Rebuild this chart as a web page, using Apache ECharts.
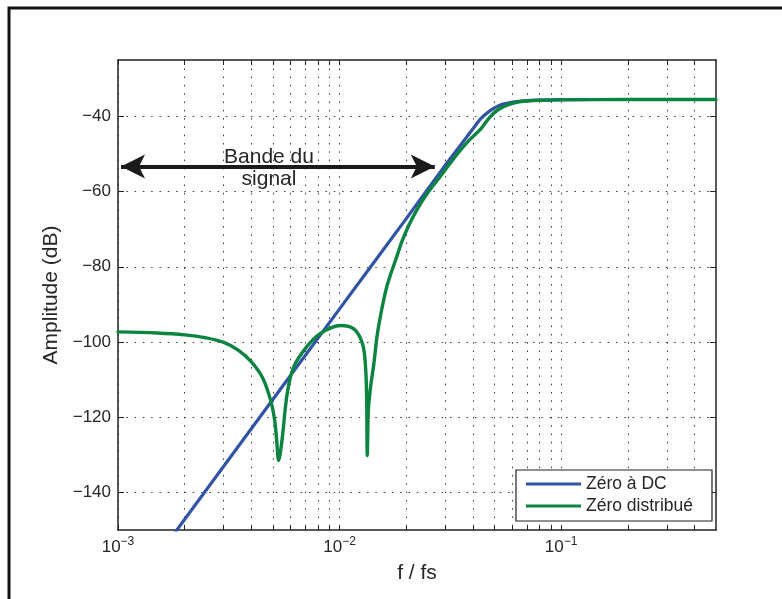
<!DOCTYPE html>
<html>
<head>
<meta charset="utf-8">
<script src="https://cdn.jsdelivr.net/npm/echarts@6/dist/echarts.min.js"></script>
<style>
    html, body { margin: 0; padding: 0; background: #fff; }
    #chart { width: 782px; height: 599px; }
</style>
</head>
<body>
<div id="chart"></div>
<script>
// frequency (f / fs) and amplitude (dB)
var dcFreq = [0.0017, 0.01, 0.02, 0.03, 0.035, 0.04, 0.0434, 0.0475, 0.052, 0.057, 0.063, 0.07, 0.08, 0.1, 0.2, 0.5];
var dcAmp = [-152.8, -91.2, -67.2, -53.0, -47.8, -43.3, -40.6, -38.6, -37.2, -36.5, -36.05, -35.8, -35.65, -35.55, -35.5, -35.5];

var distFreq = [0.001, 0.0015, 0.002, 0.0025, 0.003, 0.0035, 0.004, 0.0045, 0.0049, 0.0051, 0.0052, 0.00531,
    0.0055, 0.0058, 0.0062, 0.0071, 0.0082, 0.0101, 0.0116, 0.0127, 0.0131, 0.01325, 0.01334, 0.01349,
    0.0138, 0.0143, 0.0148, 0.0156, 0.0163, 0.017, 0.018, 0.0192, 0.0206, 0.0225, 0.025, 0.0277, 0.0307,
    0.0345, 0.0385, 0.0434, 0.0475, 0.0517, 0.057, 0.0637, 0.07, 0.08, 0.1, 0.2, 0.5];
var distAmp = [-97.3, -97.6, -98.1, -98.9, -100.1, -102.2, -105.3, -109.6, -115.8, -121, -126, -131.5,
    -126, -113.8, -106.7, -101.3, -97.7, -95.6, -96.5, -100.5, -106.7, -115, -130.2, -118,
    -112, -105.5, -98, -90.5, -85.5, -82.0, -77.8, -73.0, -68.8, -64.5, -60.3, -56.9, -53.4,
    -49.5, -46.3, -43.3, -40.3, -38.3, -37.0, -36.2, -35.9, -35.7, -35.6, -35.5, -35.5];

var xLabelTicks = [0.001, 0.01, 0.1];
var xTicks = [0.001, 0.002, 0.003, 0.004, 0.005, 0.006, 0.007, 0.008, 0.009,
    0.01, 0.02, 0.03, 0.04, 0.05, 0.06, 0.07, 0.08, 0.09,
    0.1, 0.2, 0.3, 0.4];
var yTicks = [-140, -120, -100, -80, -60, -40];

// signal band arrow (data coords)
var bandStart = 0.001032;
var bandEnd = 0.0269;
var bandLevel = -53.3;

var FONT = '"Liberation Sans", Arial, Helvetica, sans-serif';
var INK = '#262626';
var gridDots = { color: '#3a3a3a', width: 1, type: [1.5, 6.8] };
var boxLine = { color: '#222', width: 1.5 };

function minusSign(v) {
    return String(v).replace('-', '\u2212');
}

function pairs(xs, ys) {
    return xs.map(function (x, i) { return [x, ys[i]]; });
}

var chart = echarts.init(document.getElementById('chart'));

var option = {
    animation: false,
    backgroundColor: '#fff',
    textStyle: { fontFamily: FONT },
    graphic: [
        {
            type: 'rect', silent: true,
            shape: { x: 9, y: 8, width: 820, height: 700 },
            style: { fill: 'none', stroke: '#111', lineWidth: 3 }
        },
        {
            type: 'text', silent: true, z: 10,
            x: 269, y: 168,
            style: {
                text: 'Bande du\nsignal', fontSize: 21, fontFamily: FONT, fill: INK,
                align: 'center', verticalAlign: 'middle', lineHeight: 22
            }
        }
    ],
    grid: { left: 118, top: 60, width: 598, height: 470 },
    legend: {
        data: ['Zéro à DC', 'Zéro distribué'],
        orient: 'vertical', left: 516, top: 470,
        icon: 'rect', itemWidth: 55, itemHeight: 3, itemGap: 2,
        padding: [4, 19, 5, 10],
        backgroundColor: '#fff', borderColor: '#222', borderWidth: 1.2,
        textStyle: { fontSize: 17.5, color: INK, lineHeight: 20 }
    },
    xAxis: [{
        type: 'log', logBase: 10, min: 0.001, max: 0.5,
        name: 'f / fs', nameLocation: 'middle', nameGap: 33,
        nameTextStyle: { fontSize: 21, color: INK },
        axisLine: { lineStyle: boxLine },
        axisTick: { inside: true, length: 5, customValues: xTicks, lineStyle: { color: '#222' } },
        axisLabel: {
            customValues: xLabelTicks, margin: 6,
            formatter: function (v) {
                var e = Math.round(Math.log(v) / Math.LN10);
                return '{b|10}{e|' + minusSign(e) + '}';
            },
            rich: {
                b: { fontSize: 17, color: INK, lineHeight: 22 },
                e: { fontSize: 12, color: INK, lineHeight: 14, verticalAlign: 'top' }
            }
        },
        splitLine: { show: true, lineStyle: gridDots }
    }, {
        type: 'log', logBase: 10, min: 0.001, max: 0.5, position: 'top',
        axisLine: { lineStyle: boxLine },
        axisTick: { inside: true, length: 5, customValues: xTicks, lineStyle: { color: '#222' } },
        axisLabel: { show: false },
        splitLine: { show: false }
    }],
    yAxis: [{
        type: 'value', min: -150, max: -25,
        name: 'Amplitude (dB)', nameLocation: 'middle', nameGap: 56,
        nameTextStyle: { fontSize: 21, color: INK },
        axisLine: { show: true, lineStyle: boxLine },
        axisTick: { show: true, inside: true, length: 6, customValues: yTicks, lineStyle: { color: '#222' } },
        axisLabel: { customValues: yTicks, formatter: minusSign, fontSize: 17, color: INK, margin: 7 },
        splitLine: { show: true, lineStyle: gridDots }
    }, {
        type: 'value', min: -150, max: -25, position: 'right',
        axisLine: { show: true, lineStyle: boxLine },
        axisTick: { show: true, inside: true, length: 6, customValues: yTicks, lineStyle: { color: '#222' } },
        axisLabel: { show: false },
        splitLine: { show: false }
    }],
    series: [{
        name: 'Zéro à DC',
        type: 'line',
        data: pairs(dcFreq, dcAmp),
        showSymbol: false,
        smooth: 0.35,
        color: '#3153a4',
        lineStyle: { width: 3.2, color: '#3153a4' },
        z: 3
    }, {
        name: 'Zéro distribué',
        type: 'line',
        data: pairs(distFreq, distAmp),
        showSymbol: false,
        smooth: 0.35,
        color: '#0b8441',
        lineStyle: { width: 3.4, color: '#0b8441', cap: 'round', join: 'round' },
        z: 4
    }, {
        name: 'band',
        type: 'line',
        data: [],
        markLine: {
            silent: true,
            symbol: ['arrow', 'arrow'],
            symbolSize: [18, 24],
            label: { show: false },
            lineStyle: { type: 'solid', width: 4, color: '#1a1a1a' },
            data: [[{ coord: [bandStart, bandLevel] }, { coord: [bandEnd, bandLevel] }]]
        }
    }]
};

chart.setOption(option);
</script>
</body>
</html>
